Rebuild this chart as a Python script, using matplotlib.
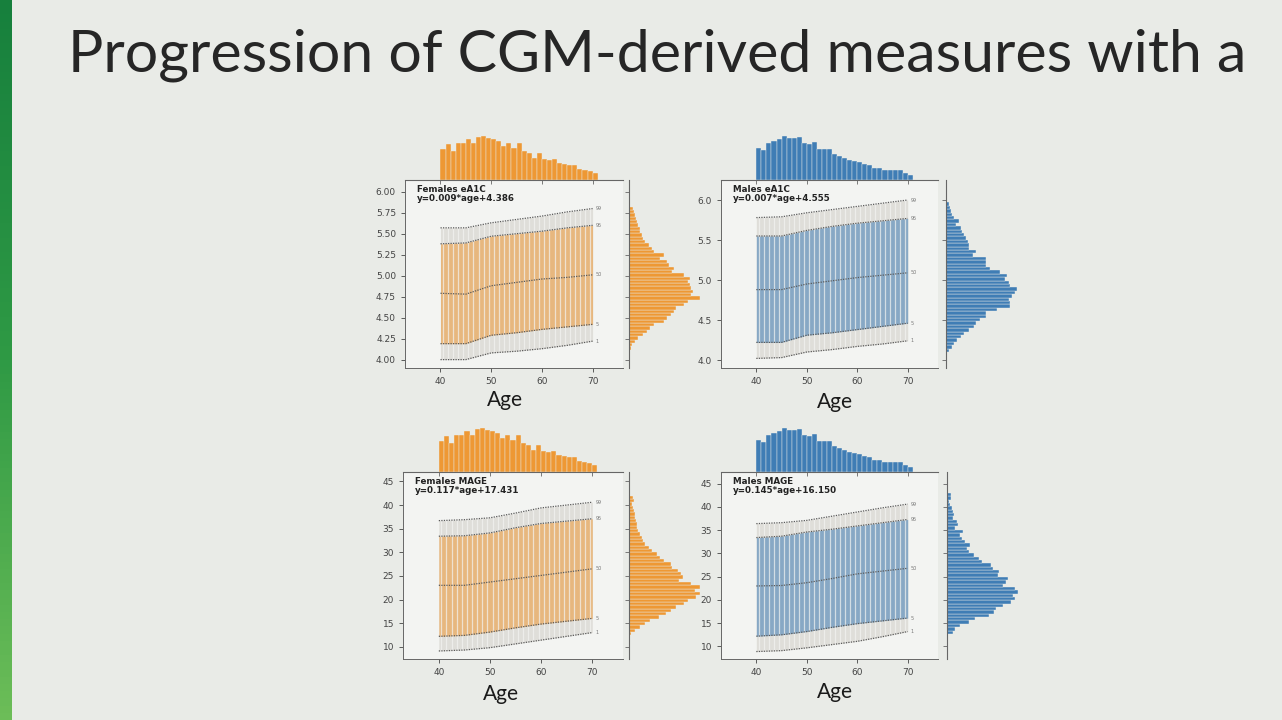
import numpy as np
import matplotlib.pyplot as plt
from matplotlib.colors import LinearSegmentedColormap

# age bins (top marginals) and knot ages for the percentile curves
ages = np.arange(40, 71)
pctAges = [40, 45, 50, 55, 60, 65, 70]
pctLabels = ['99', '95', '50', '5', '1']

femaleAgeCounts = [94, 107, 87, 110, 112, 124, 110, 130, 132, 127, 122, 117, 102, 110, 97, 112,
                   87, 82, 67, 80, 64, 60, 62, 52, 47, 44, 44, 34, 30, 27, 22]
maleAgeCounts = [95, 88, 110, 115, 120, 128, 122, 122, 125, 108, 105, 112, 90, 90, 90, 75,
                 70, 65, 60, 55, 52, 48, 45, 35, 35, 30, 28, 30, 28, 22, 15]

# right marginals, counts from low to high value
femaleA1cRange = (4.12, 5.82)
femaleA1cCounts = [7, 10, 17, 27, 42, 52, 62, 72, 102, 112, 122, 132, 137, 162, 172, 207, 182, 187,
                   182, 177, 172, 177, 162, 127, 132, 117, 112, 92, 102, 72, 67, 57, 47, 42, 37, 32,
                   32, 27, 22, 20, 17, 14, 12]
maleA1cRange = (4.10, 5.97)
maleA1cCounts = [10, 18, 23, 33, 43, 53, 68, 83, 88, 98, 118, 118, 148, 188, 188, 183, 193, 203,
                 208, 188, 183, 173, 178, 158, 128, 118, 118, 118, 78, 88, 68, 68, 63, 58, 53, 48,
                 43, 28, 38, 23, 18, 16, 13, 8]
femaleMageRange = (12.4, 42.0)
femaleMageCounts = [7, 17, 32, 47, 62, 87, 107, 122, 137, 162, 172, 197, 207, 192, 207, 182, 147,
                    157, 152, 142, 127, 122, 102, 92, 82, 67, 57, 47, 40, 37, 32, 27, 24, 22, 20,
                    17, 17, 14, 12, 10, 14, 12]
maleMageRange = (12.7, 43.0)
maleMageCounts = [18, 23, 38, 63, 83, 123, 138, 143, 163, 188, 198, 193, 208, 198, 163, 173, 178,
                  148, 153, 133, 128, 103, 93, 78, 63, 58, 68, 53, 43, 38, 48, 23, 31, 28, 18, 21,
                  18, 15, 8, 5, 11, 13]

# percentile curves (99, 95, 50, 5, 1) at pctAges
femaleA1cP99 = [5.57, 5.57, 5.63, 5.67, 5.71, 5.76, 5.80]
femaleA1cP95 = [5.38, 5.39, 5.47, 5.50, 5.53, 5.57, 5.60]
femaleA1cP50 = [4.79, 4.78, 4.88, 4.92, 4.96, 4.98, 5.01]
femaleA1cP5 = [4.19, 4.19, 4.29, 4.32, 4.36, 4.39, 4.42]
femaleA1cP1 = [4.00, 4.00, 4.08, 4.10, 4.13, 4.17, 4.22]

maleA1cP99 = [5.78, 5.79, 5.84, 5.88, 5.92, 5.96, 6.00]
maleA1cP95 = [5.55, 5.55, 5.62, 5.67, 5.71, 5.74, 5.77]
maleA1cP50 = [4.88, 4.88, 4.95, 4.99, 5.03, 5.06, 5.09]
maleA1cP5 = [4.22, 4.22, 4.31, 4.34, 4.38, 4.42, 4.46]
maleA1cP1 = [4.02, 4.03, 4.10, 4.13, 4.17, 4.20, 4.24]

femaleMageP99 = [36.7, 36.9, 37.3, 38.3, 39.4, 40.0, 40.6]
femaleMageP95 = [33.4, 33.5, 34.1, 35.2, 36.1, 36.6, 37.1]
femaleMageP50 = [23.0, 23.0, 23.7, 24.4, 25.1, 25.8, 26.5]
femaleMageP5 = [12.2, 12.4, 13.1, 14.0, 14.8, 15.4, 16.0]
femaleMageP1 = [9.1, 9.3, 9.8, 10.6, 11.4, 12.2, 13.0]

maleMageP99 = [36.4, 36.6, 37.1, 38.0, 38.9, 39.8, 40.6]
maleMageP95 = [33.4, 33.7, 34.6, 35.2, 35.9, 36.6, 37.3]
maleMageP50 = [23.0, 23.1, 23.7, 24.6, 25.6, 26.2, 26.8]
maleMageP5 = [12.2, 12.5, 13.2, 14.1, 14.9, 15.5, 16.1]
maleMageP1 = [8.9, 9.1, 9.7, 10.4, 11.1, 12.1, 13.2]

W, H = 1282, 720
BG = '#e9ebe7'
AXBG = '#f3f4f2'
ORANGE = '#ee9834'
BLUE = '#3f7db5'


def pxAxes(fig, x0, y0, x1, y1):
    return fig.add_axes([x0 / W, 1 - y1 / H, (x1 - x0) / W, (y1 - y0) / H])


def drawJoint(fig, box, margGap, color, ageCounts, valCounts, valRange, pcts,
              ylim, yticks, yfmt, label, ageTop, valRight):
    x0, y0, x1, y1 = box
    ax = pxAxes(fig, x0, y0, x1, y1)
    axTop = pxAxes(fig, x0, y0 - 47, x1, y0)
    axRight = pxAxes(fig, x1 + margGap, y0, x1 + margGap + 76, y1)
    ax.set_facecolor(AXBG)

    p99, p95, p50, p5, p1 = pcts
    ax.fill_between(pctAges, p1, p99, color='#cdc9c1', alpha=0.5, lw=0)
    ax.fill_between(pctAges, p5, p95, color=color, alpha=0.55, lw=0)
    for a in ages[:-1]:
        ax.axvline(a + 0.5, color=AXBG, lw=0.9, alpha=0.7)
    for p, lab in zip(pcts, pctLabels):
        ax.plot(pctAges, p, color='#5a5a5a', lw=0.9, ls=(0, (1, 1)))
        ax.text(70.6, p[-1], lab, fontsize=3.5, color='#777777', va='center')

    ax.set_xlim(33, 76)
    ax.set_ylim(*ylim)
    ax.set_xticks([40, 50, 60, 70])
    ax.set_yticks(yticks)
    ax.set_yticklabels([yfmt.format(v) for v in yticks])
    ax.tick_params(labelsize=6.5, colors='#444444', length=3, width=0.6)
    for s in ['top', 'right']:
        ax.spines[s].set_visible(False)
    for s in ['left', 'bottom']:
        ax.spines[s].set_color('#666666')
        ax.spines[s].set_linewidth(0.7)
    ax.text(0.055, 0.975, label, transform=ax.transAxes, fontsize=6.3,
            fontweight='bold', va='top', color='#222222', linespacing=1.05)

    axTop.bar(ages, ageCounts, width=1, align='edge', color=color,
              edgecolor=BG, lw=0.3)
    axTop.set_xlim(33, 76)
    axTop.set_ylim(0, ageTop)
    axTop.set_xticks([40, 50, 60, 70])
    axTop.tick_params(labelbottom=False, left=False, labelleft=False,
                      length=3, width=0.6, colors='#666666')

    edges = np.linspace(valRange[0], valRange[1], len(valCounts) + 1)
    axRight.barh(edges[:-1], valCounts, height=edges[1] - edges[0], align='edge',
                 color=color, edgecolor=BG, lw=0.3)
    axRight.set_ylim(*ylim)
    axRight.set_xlim(0, valRight)
    axRight.set_yticks(yticks)
    axRight.tick_params(labelleft=False, bottom=False, labelbottom=False,
                        length=3, width=0.6, colors='#666666')

    for a in [axTop, axRight]:
        a.patch.set_alpha(0)
        for s in a.spines.values():
            s.set_visible(False)
    axTop.spines['bottom'].set_visible(True)
    axTop.spines['bottom'].set_color('#666666')
    axRight.spines['left'].set_visible(True)
    axRight.spines['left'].set_color('#666666')


fig = plt.figure(figsize=(W / 100, H / 100), dpi=100, facecolor=BG)

side = fig.add_axes([0, 0, 12 / W, 1])
greens = LinearSegmentedColormap.from_list('g', ['#17803d', '#2f9a45', '#6cbd58'])
side.imshow(np.linspace(0, 1, 100).reshape(-1, 1), aspect='auto', cmap=greens)
side.axis('off')

fig.text(68 / W, 1 - 71 / H, 'Progression of CGM-derived measures with a',
         fontsize=42.5, family='Lato', color='#262626', va='baseline')

a1cTicksF = [4.00, 4.25, 4.50, 4.75, 5.00, 5.25, 5.50, 5.75, 6.00]
a1cTicksM = [4.0, 4.5, 5.0, 5.5, 6.0]
mageTicks = [10, 15, 20, 25, 30, 35, 40, 45]

drawJoint(fig, (405, 180, 623, 368), 6, ORANGE, femaleAgeCounts, femaleA1cCounts,
          femaleA1cRange,
          [femaleA1cP99, femaleA1cP95, femaleA1cP50, femaleA1cP5, femaleA1cP1],
          (3.9, 6.14), a1cTicksF, '{:.2f}', 'Females eA1C\ny=0.009*age+4.386', 141, 222)
drawJoint(fig, (721, 180, 938, 368), 8, BLUE, maleAgeCounts, maleA1cCounts, maleA1cRange,
          [maleA1cP99, maleA1cP95, maleA1cP50, maleA1cP5, maleA1cP1],
          (3.9, 6.25), a1cTicksM, '{:.1f}', 'Males eA1C\ny=0.007*age+4.555', 138, 222)
drawJoint(fig, (403, 472, 623, 659), 6, ORANGE, femaleAgeCounts, femaleMageCounts,
          femaleMageRange,
          [femaleMageP99, femaleMageP95, femaleMageP50, femaleMageP5, femaleMageP1],
          (7.4, 47.0), mageTicks, '{:d}', 'Females MAGE\ny=0.117*age+17.431', 141, 222)
drawJoint(fig, (721, 472, 938, 659), 9, BLUE, maleAgeCounts, maleMageCounts, maleMageRange,
          [maleMageP99, maleMageP95, maleMageP50, maleMageP5, maleMageP1],
          (7.3, 47.5), mageTicks, '{:d}', 'Males MAGE\ny=0.145*age+16.150', 138, 222)

for x, y in [(505, 400), (835, 402), (501, 694), (835, 692)]:
    fig.text(x / W, 1 - y / H, 'Age', ha='center', va='center', fontsize=15,
             family='Lato', color='#1a1a1a')

fig.savefig('out.png', dpi=100, facecolor=BG)
